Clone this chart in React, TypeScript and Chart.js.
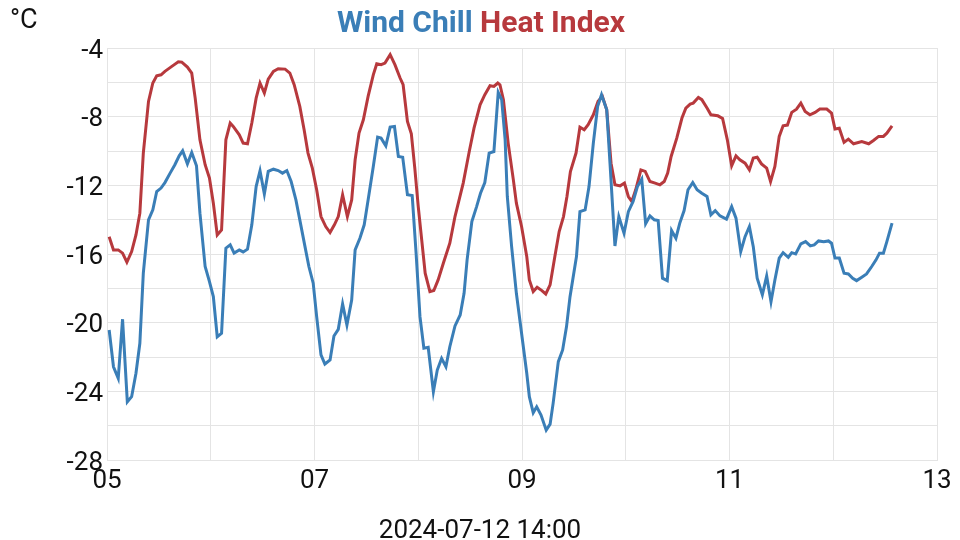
import React, { useEffect, useRef } from "react";
import { Chart, registerables } from "chart.js";

Chart.register(...registerables);

// Hours since 2024-07-05 00:00
const heatHours = [
  0.5, 1.5, 2.6, 3.6, 4.6, 5.7, 6.7, 7.6, 8.4, 9.6, 10.6, 11.5, 12.5, 13.4, 15.0, 16.5, 17.3, 18.6, 19.6, 20.4,
  21.5, 22.7, 23.7, 24.6, 25.5, 26.5, 27.5, 28.5, 29.2, 30.6, 31.5, 32.5, 33.5, 34.5, 35.4, 36.4, 37.3, 38.5,
  39.6, 41.2, 42.3, 43.3, 44.6, 45.6, 46.5, 47.5, 48.5, 49.5, 50.6, 51.6, 52.6, 53.5, 54.5, 55.6, 56.6, 57.4,
  58.3, 59.3, 60.4, 61.6, 62.4, 63.4, 64.3, 65.5, 66.6, 67.8, 68.5, 69.5, 70.4, 71.2, 72.0, 72.8, 73.6, 74.7,
  75.6, 76.6, 77.8, 79.3, 80.5, 82.4, 83.8, 84.9, 86.3, 87.4, 88.6, 89.5, 90.4, 90.9, 91.7, 92.8, 94.0, 94.7,
  95.9, 97.1, 97.7, 98.6, 99.5, 100.6, 101.5, 102.5, 103.6, 104.6, 105.6, 106.4, 107.2, 108.5, 109.4, 110.4,
  111.3, 112.5, 113.6, 114.6, 115.6, 116.6, 117.5, 118.7, 119.7, 120.6, 121.4, 122.3, 123.5, 124.5, 125.6,
  126.8, 127.9, 128.9, 129.7, 130.5, 131.8, 133.0, 133.9, 134.9, 135.6, 136.8, 137.6, 138.8, 139.7, 141.3,
  142.4, 143.5, 144.5, 145.5, 146.4, 147.6, 148.6, 149.5, 150.4, 151.4, 152.6, 153.5, 154.5, 155.5, 156.4,
  157.4, 158.4, 159.5, 160.5, 161.5, 162.6, 163.8, 164.9, 166.5, 167.6, 168.4, 169.4, 170.5, 171.5, 172.7,
  174.6, 176.2, 177.3, 178.5, 179.6, 180.4, 181.6,
];
const heatIndex = [
  -15.0, -15.76, -15.76, -15.95, -16.48, -15.86, -14.89, -13.62, -10.12, -7.11, -6.04, -5.62, -5.56, -5.36,
  -5.07, -4.8, -4.82, -5.11, -5.46, -6.92, -9.35, -10.8, -11.58, -13.04, -14.89, -14.6, -9.35, -8.37, -8.57,
  -9.06, -9.54, -9.58, -8.37, -6.92, -6.04, -6.62, -5.81, -5.36, -5.21, -5.23, -5.46, -6.14, -7.4, -8.76,
  -10.12, -11.0, -12.26, -13.82, -14.4, -14.75, -14.3, -13.82, -12.55, -13.82, -12.85, -10.51, -8.96, -8.18,
  -6.82, -5.56, -4.92, -4.97, -4.88, -4.39, -4.97, -5.75, -6.14, -8.28, -9.0, -11.0, -13.24, -15.18, -17.12,
  -18.19, -18.13, -17.51, -16.54, -15.37, -13.82, -11.87, -10.03, -8.67, -7.31, -6.72, -6.2, -6.24, -6.04,
  -6.14, -7.01, -9.54, -11.68, -13.04, -14.4, -16.15, -17.51, -18.19, -17.94, -18.13, -18.33, -17.8, -16.15,
  -14.69, -13.82, -12.65, -11.2, -10.12, -8.61, -8.76, -8.47, -7.89, -7.11, -6.82, -7.6, -10.71, -11.97,
  -12.03, -11.87, -12.65, -12.94, -12.26, -11.1, -11.19, -11.78, -11.87, -11.97, -11.78, -11.29, -10.32,
  -9.25, -8.08, -7.5, -7.27, -7.21, -6.88, -7.01, -7.5, -7.89, -7.95, -8.1, -9.35, -10.86, -10.28, -10.51,
  -10.71, -11.1, -10.41, -10.36, -10.75, -11.0, -11.78, -10.9, -9.15, -8.53, -8.49, -7.75, -7.56, -7.21,
  -7.7, -7.89, -7.75, -7.56, -7.56, -7.79, -8.72, -8.67, -9.5, -9.31, -9.58, -9.45, -9.58, -9.39, -9.15,
  -9.15, -8.96, -8.53,
];

const chillHours = [
  0.5, 1.5, 2.6, 3.6, 4.7, 5.7, 6.7, 7.6, 8.4, 9.6, 10.6, 11.5, 12.5, 13.4, 14.6, 15.7, 16.7, 17.5, 18.6, 19.6,
  20.7, 21.5, 22.7, 23.7, 24.6, 25.5, 26.5, 27.5, 28.5, 29.4, 30.6, 31.5, 32.5, 33.5, 34.5, 35.4, 36.4, 37.3,
  38.5, 39.6, 40.6, 41.6, 42.6, 43.7, 44.6, 45.8, 46.7, 47.7, 48.5, 49.5, 50.4, 51.6, 52.5, 53.5, 54.5, 55.5,
  56.6, 57.4, 58.5, 59.5, 60.4, 61.6, 62.6, 63.4, 64.5, 65.5, 66.5, 67.4, 68.4, 69.5, 70.6, 71.5, 72.4, 73.3,
  74.3, 75.5, 76.4, 77.4, 78.4, 79.3, 80.5, 81.7, 82.6, 83.3, 84.4, 85.5, 86.4, 87.4, 88.4, 89.5, 90.5, 91.3,
  92.1, 92.6, 93.6, 94.7, 95.9, 97.1, 97.7, 98.6, 99.4, 100.4, 101.6, 102.5, 103.2, 104.4, 105.4, 106.3,
  107.1, 108.6, 109.4, 110.6, 111.5, 112.5, 113.5, 114.4, 115.6, 116.4, 117.5, 118.4, 119.6, 120.6, 121.7,
  122.7, 123.7, 124.6, 125.6, 126.6, 127.5, 128.5, 129.6, 130.6, 131.6, 132.5, 133.5, 134.4, 135.5, 136.5,
  137.6, 138.8, 139.7, 140.7, 141.8, 143.3, 144.5, 145.5, 146.6, 147.6, 148.6, 149.5, 150.4, 151.6, 152.6,
  153.6, 154.5, 155.5, 156.4, 157.6, 158.4, 159.3, 160.5, 161.6, 162.7, 163.6, 164.6, 165.8, 166.9, 167.6,
  168.4, 169.4, 170.5, 171.5, 172.5, 173.4, 174.6, 175.7, 176.9, 177.9, 178.7, 179.6, 180.4, 181.6,
];
const windChill = [
  -20.43, -22.57, -23.24, -19.8, -24.61, -24.31, -22.95, -21.2, -17.12, -14.01, -13.43, -12.36, -12.16,
  -11.84, -11.29, -10.8, -10.28, -9.99, -10.75, -10.09, -10.86, -13.62, -16.73, -17.61, -18.48, -20.82,
  -20.62, -15.66, -15.47, -15.95, -15.76, -15.88, -15.72, -14.3, -12.07, -11.15, -12.5, -11.19, -11.06,
  -11.14, -11.29, -11.14, -11.78, -12.85, -14.01, -15.57, -16.73, -17.7, -19.65, -21.88, -22.41, -22.17,
  -20.78, -20.39, -18.91, -20.14, -18.68, -15.76, -15.08, -14.3, -12.85, -10.9, -9.19, -9.25, -9.7, -8.61,
  -8.57, -10.32, -10.36, -12.55, -12.6, -15.95, -19.65, -21.49, -21.44, -24.02, -22.76, -22.08, -22.57,
  -21.4, -20.19, -19.55, -18.29, -16.34, -14.11, -13.24, -12.46, -11.84, -10.12, -10.03, -6.59, -7.01,
  -9.35, -12.65, -15.57, -18.29, -20.62, -22.95, -24.31, -25.25, -24.9, -25.38, -26.26, -25.91, -24.7,
  -22.27, -21.59, -20.23, -18.5, -16.15, -13.53, -13.43, -12.07, -9.54, -7.4, -6.72, -7.6, -10.9, -15.53,
  -13.82, -14.79, -13.53, -12.94, -12.07, -11.64, -14.24, -13.78, -14.01, -14.05, -17.41, -17.55, -14.63,
  -15.08, -14.2, -13.47, -12.26, -11.84, -12.26, -12.46, -12.65, -13.72, -13.47, -13.78, -13.97, -13.24,
  -13.91, -15.86, -14.99, -14.4, -15.57, -17.41, -18.38, -17.28, -18.78, -17.51, -16.24, -15.92, -16.19,
  -15.92, -15.99, -15.41, -15.28, -15.53, -15.47, -15.24, -15.29, -15.24, -15.37, -16.24, -16.24, -17.12,
  -17.16, -17.41, -17.55, -17.35, -17.16, -16.73, -16.34, -15.95, -15.95, -15.28, -14.2,
];

const yMin = -28;
const yMax = -4;
const yLabelStep = 4;
const firstDay = 5;
const xMaxHours = 192; // July 13 00:00
const unitLabel = "°C";
const titleParts = ["Wind Chill", "Heat Index"];
const dateLabel = "2024-07-12 14:00";

const BLUE = "#3a7eb7";
const RED = "#b7393d";
const GRID = "#e4e4e4";
const TEXT = "#111111";

export default function App() {
  const ref = useRef<HTMLCanvasElement | null>(null);

  useEffect(() => {
    if (!ref.current) return;
    const textPlugin = {
      id: "extraText",
      afterDraw(chart: any) {
        const ctx = chart.ctx;
        ctx.save();
        // title
        ctx.font = "bold 30px Roboto";
        ctx.textBaseline = "alphabetic";
        ctx.textAlign = "left";
        const a = titleParts[0];
        const b = " " + titleParts[1];
        const wa = ctx.measureText(a).width;
        const wb = ctx.measureText(b).width;
        const x0 = 481 - (wa + wb) / 2;
        ctx.fillStyle = BLUE;
        ctx.fillText(a, x0, 31.5);
        ctx.fillStyle = RED;
        ctx.fillText(b, x0 + wa, 31.5);
        // unit
        ctx.font = "27px Roboto";
        ctx.fillStyle = TEXT;
        ctx.fillText(unitLabel, 10, 28);
        // date
        ctx.font = "26px Roboto";
        ctx.textAlign = "center";
        ctx.fillText(dateLabel, 480, 538);
        ctx.restore();
      },
    };

    const chart = new Chart(ref.current, {
      type: "line",
      data: {
        datasets: [
          {
            label: titleParts[0],
            data: chillHours.map((h, i) => ({ x: h, y: windChill[i] })),
            borderColor: BLUE,
            backgroundColor: BLUE,
            borderWidth: 3,
            pointRadius: 0,
            tension: 0,
          },
          {
            label: titleParts[1],
            data: heatHours.map((h, i) => ({ x: h, y: heatIndex[i] })),
            borderColor: RED,
            backgroundColor: RED,
            borderWidth: 3,
            pointRadius: 0,
            tension: 0,
          },
        ],
      },
      options: {
        responsive: false,
        animation: false,
        layout: { padding: { top: 48, right: 23, bottom: 0, left: 0 } },
        plugins: {
          legend: { display: false },
          title: { display: false },
          tooltip: { enabled: false },
        },
        scales: {
          x: {
            type: "linear",
            min: 0,
            max: xMaxHours,
            afterFit: (s: any) => {
              s.height = 80;
            },
            grid: { color: GRID, lineWidth: 1, drawTicks: false },
            border: { color: GRID },
            ticks: {
              stepSize: 24,
              autoSkip: false,
              maxRotation: 0,
              padding: 6,
              color: TEXT,
              font: { family: "Roboto", size: 26 },
              callback: (v: any) => {
                const d = firstDay + Math.round(Number(v) / 24);
                return d % 2 === 1 ? String(d).padStart(2, "0") : "";
              },
            },
          },
          y: {
            min: yMin,
            max: yMax,
            afterFit: (s: any) => {
              s.width = 107;
            },
            grid: { color: GRID, lineWidth: 1, drawTicks: false },
            border: { color: GRID },
            ticks: {
              stepSize: 2,
              autoSkip: false,
              padding: 4,
              labelOffset: 3,
              color: TEXT,
              font: { family: "Roboto", size: 26 },
              callback: (v: any) => (Number(v) % yLabelStep === 0 ? String(v) : ""),
            },
          },
        },
      },
      plugins: [textPlugin],
    });
    return () => chart.destroy();
  }, []);

  return (
    <div style={{ position: "fixed", left: 0, top: 0, width: 960, height: 540, background: "#fff" }}>
      <canvas ref={ref} width={960} height={540} style={{ display: "block", width: 960, height: 540 }} />
    </div>
  );
}
